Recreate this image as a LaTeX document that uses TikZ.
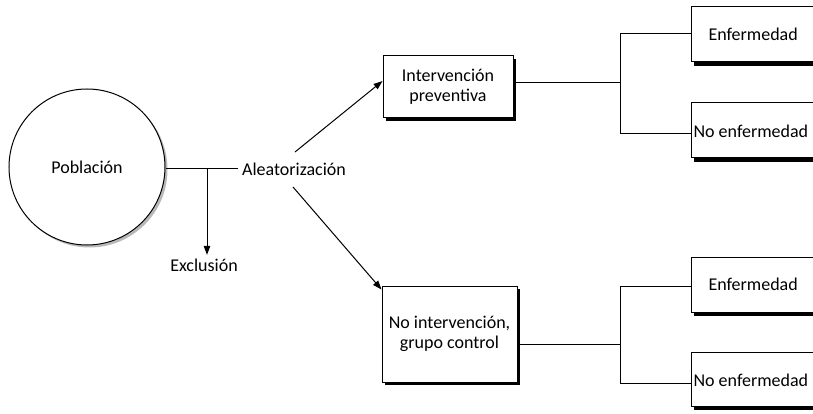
\documentclass[tikz,border=0pt]{standalone}
\usepackage{fontspec}
\setmainfont{Carlito}
\usetikzlibrary{arrows.meta,calc}
\begin{document}
\begin{tikzpicture}[x=1pt,y=-1pt,
  line width=1pt,
  every node/.style={font=\fontsize{18}{20}\selectfont},
  box/.style={draw,fill=white,inner sep=0pt,align=center},
  tip/.style={-{Triangle[length=9pt,width=6.5pt]}}]
\useasboundingbox (0,0) rectangle (813,414);
\clip (0,0) rectangle (813,414);
% population circle with shadow
\fill[gray!55] (89.5,169.5) circle (78);
\node[circle,draw,fill=white,minimum size=156pt,inner sep=0pt] (pob) at (87,167) {Población};
% randomisation
\node (ale) at (294,169) {Aleatorización};
\node (exc) at (204,265) {Exclusión};
\coordinate (jx) at (207,169);
\draw (pob.east |- ale.west) -- (ale.west);
\draw[tip] (jx) -- (jx |- exc.north);
% intervention box
\fill (386,59) rectangle (516,121);
\node[box,minimum width=130pt,minimum height=62pt] (int) at (448,87) {Intervención\\preventiva};
% control box
\fill (385,289) rectangle (520,385);
\node[box,minimum width=135pt,minimum height=96pt] (ctl) at (449.5,334) {No intervención,\\grupo control};
\coordinate (a1s) at (295,152);
\coordinate (a2s) at (293,187);
\draw[tip] (a1s) -- ([yshift=6pt]int.west);
\draw[tip] (a2s) -- ([yshift=-4pt]ctl.north west);
% outcome boxes
\foreach \t/\b in {7/62, 103/158, 257/312, 352/406}{
  \fill (694,\t+3) rectangle (840,\b+4);
  \draw[fill=white] (691,\t) rectangle (840,\b);
}
\node[anchor=west,inner sep=0pt] (e1) at (708,34) {Enfermedad};
\node[anchor=west,inner sep=0pt] (n1) at (693,131) {No enfermedad};
\node[anchor=west,inner sep=0pt] (e2) at (708,284) {Enfermedad};
\node[anchor=west,inner sep=0pt] (n2) at (693,380) {No enfermedad};
\coordinate (j1) at (620,83);
\coordinate (j2) at (620,344);
\draw (int.east |- j1) -- (j1);
\draw (j1 |- 0,34) -- (j1) -- (j1 |- 0,134);
\draw (j1 |- 0,34) -- (691,34);
\draw (j1 |- 0,134) -- (691,134);
\draw (ctl.east |- j2) -- (j2);
\draw (j2 |- 0,286) -- (j2 |- 0,383);
\draw (j2 |- 0,286) -- (691,286);
\draw (j2 |- 0,383) -- (691,383);
\end{tikzpicture}
\end{document}
